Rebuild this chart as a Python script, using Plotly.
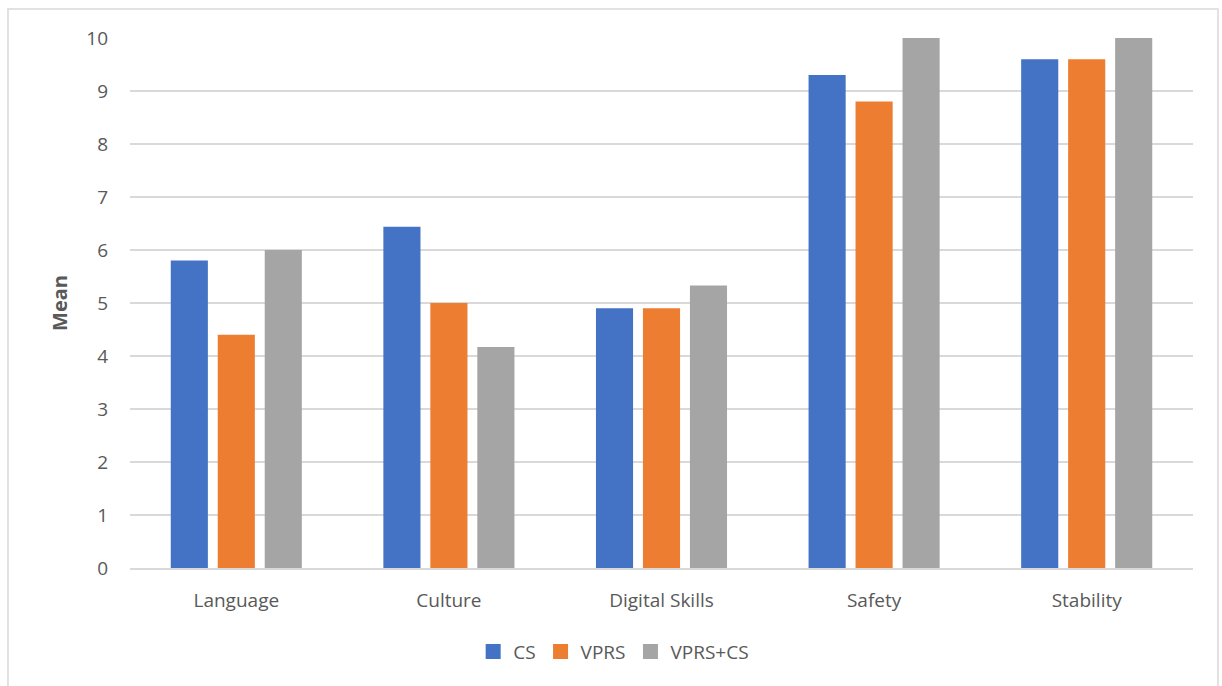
import plotly.graph_objects as go

categories = ["Language", "Culture", "Digital Skills", "Safety", "Stability"]
cs = [5.8, 6.44, 4.9, 9.3, 9.6]
vprs = [4.4, 5.0, 4.9, 8.8, 9.6]
vprs_cs = [6.0, 4.17, 5.33, 10.0, 10.0]
y_ticks = list(range(0, 11))

series = [
    ("CS", cs, "#4472C4"),
    ("VPRS", vprs, "#ED7D31"),
    ("VPRS+CS", vprs_cs, "#A5A5A5"),
]

text_color = "#595959"
font_family = "Open Sans, Liberation Sans, sans-serif"

fig = go.Figure()
for name, values, color in series:
    fig.add_trace(go.Bar(
        x=categories, y=values, name=name, showlegend=False,
        marker=dict(color=color, line=dict(width=0)),
    ))
# legend entries with larger square swatches
for name, values, color in series:
    fig.add_trace(go.Scatter(
        x=[None], y=[None], name=name, mode="markers",
        marker=dict(symbol="square", size=15, color=color),
    ))

fig.update_layout(
    width=1222, height=686,
    margin=dict(l=130, r=29, t=38, b=118),
    paper_bgcolor="white", plot_bgcolor="white",
    barmode="group", bargap=0.337, bargroupgap=0.21,
    font=dict(family=font_family, size=19, color=text_color),
    showlegend=True,
    legend=dict(
        orientation="h", x=0.455, xanchor="center", y=-0.158, yanchor="middle",
        font=dict(size=19, color=text_color), itemwidth=30,
        traceorder="normal",
    ),
    xaxis=dict(
        showgrid=False, showline=True, linecolor="#d9d9d9", linewidth=2,
        ticks="", tickfont=dict(size=19, color=text_color),
        ticklabelstandoff=14,
    ),
    yaxis=dict(
        range=[0, 10], tickvals=y_ticks, showgrid=True, gridcolor="#d9d9d9",
        gridwidth=1.5, zeroline=False, showline=False, ticks="",
        tickfont=dict(size=19, color=text_color), ticklabelstandoff=21,
        title=dict(text="<b>Mean</b>", font=dict(size=20, color=text_color), standoff=13),
    ),
    shapes=[dict(
        type="rect", xref="paper", yref="paper",
        x0=-0.1148, x1=1.0235, y0=-0.25, y1=1.0547,
        line=dict(color="#d9d9d9", width=1.5), fillcolor="rgba(0,0,0,0)", layer="below",
    )],
)

fig.write_html("out.html")
